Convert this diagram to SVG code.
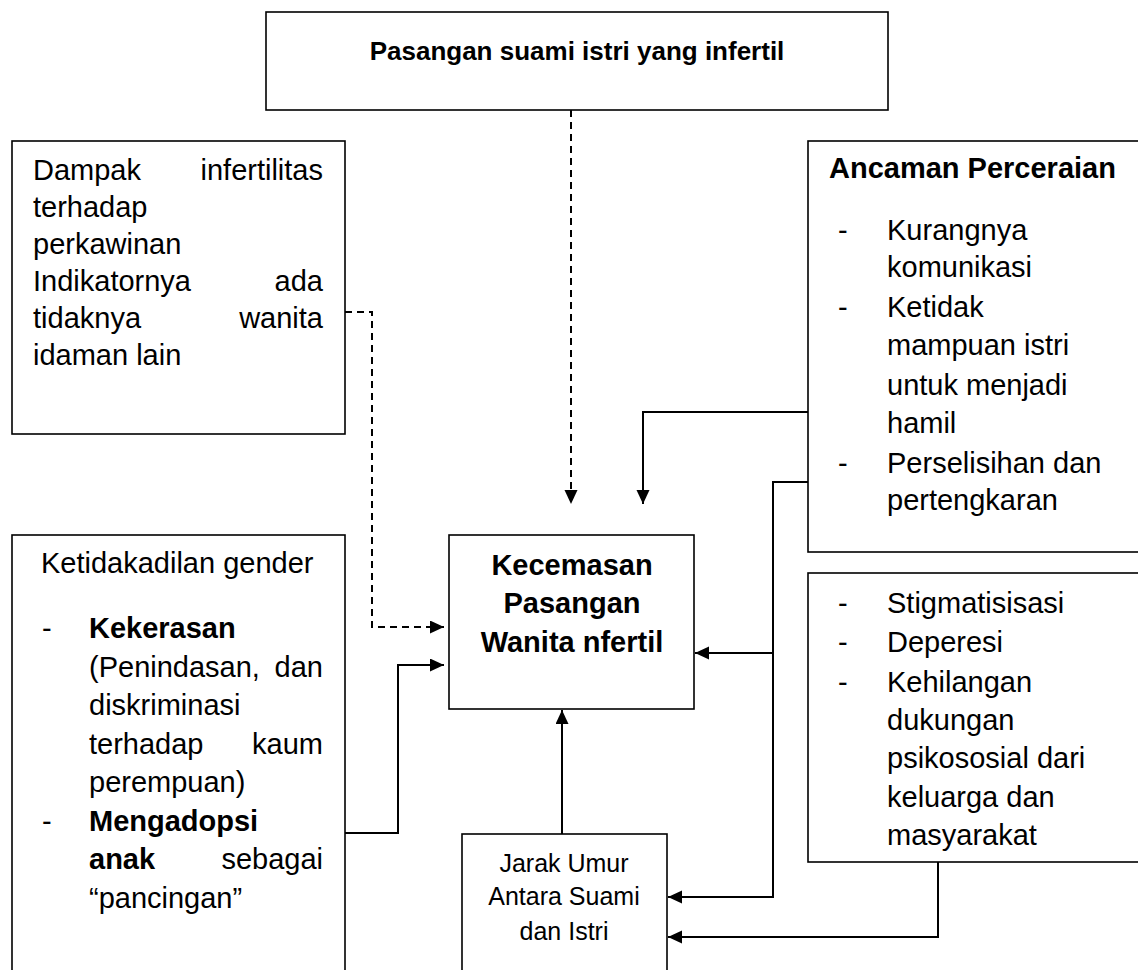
<svg xmlns="http://www.w3.org/2000/svg" width="1138" height="970" viewBox="0 0 1138 970">
<style>
.box{fill:#fff;stroke:#000;stroke-width:1.6}
.t{font-family:"Liberation Sans",Arial,sans-serif;font-size:29px;fill:#000}
.b{font-weight:bold}
.s{font-size:25px}
.c{text-anchor:middle}
.e{text-anchor:end}
.ln{fill:none;stroke:#000;stroke-width:2}
.dash{stroke-dasharray:7 5}
</style>
<defs>
<marker id="ah" markerUnits="userSpaceOnUse" markerWidth="15" markerHeight="14" refX="14" refY="6.5" orient="auto">
<path d="M0,0 L14,6.5 L0,13 z" fill="#000"/>
</marker>
</defs>
<rect width="1138" height="970" fill="#fff"/>

<g id="top">
<rect class="box" x="266" y="12" width="622" height="98"/>
<text class="t b c" x="577" y="60" style="font-size:26px">Pasangan suami istri yang infertil</text>
</g>

<g id="dampak">
<rect class="box" x="12" y="141" width="333" height="293"/>
<text class="t" x="33" y="180">Dampak</text><text class="t e" x="323" y="180">infertilitas</text>
<text class="t" x="33" y="217">terhadap</text>
<text class="t" x="33" y="254">perkawinan</text>
<text class="t" x="33" y="291">Indikatornya</text><text class="t e" x="323" y="291">ada</text>
<text class="t" x="33" y="328">tidaknya</text><text class="t e" x="323" y="328">wanita</text>
<text class="t" x="33" y="365">idaman lain</text>
</g>

<g id="ancaman">
<rect class="box" x="808" y="141" width="340" height="411"/>
<text class="t b" x="829" y="178">Ancaman Perceraian</text>
<text class="t" x="838" y="240">-</text><text class="t" x="887" y="240">Kurangnya</text>
<text class="t" x="887" y="277">komunikasi</text>
<text class="t" x="838" y="317">-</text><text class="t" x="887" y="317">Ketidak</text>
<text class="t" x="887" y="355">mampuan istri</text>
<text class="t" x="887" y="395">untuk menjadi</text>
<text class="t" x="887" y="433">hamil</text>
<text class="t" x="838" y="473">-</text><text class="t" x="887" y="473">Perselisihan dan</text>
<text class="t" x="887" y="510">pertengkaran</text>
</g>

<g id="gender">
<rect class="box" x="12" y="535" width="333" height="445"/>
<text class="t" x="41" y="573">Ketidakadilan gender</text>
<text class="t" x="42" y="638">-</text><text class="t b" x="89" y="638">Kekerasan</text>
<text class="t" x="89" y="677">(Penindasan,</text><text class="t e" x="323" y="677">dan</text>
<text class="t" x="89" y="715">diskriminasi</text>
<text class="t" x="89" y="754">terhadap</text><text class="t e" x="323" y="754">kaum</text>
<text class="t" x="89" y="792">perempuan)</text>
<text class="t" x="42" y="831">-</text><text class="t b" x="89" y="831">Mengadopsi</text>
<text class="t b" x="89" y="869">anak</text><text class="t e" x="323" y="869">sebagai</text>
<text class="t" x="89" y="908">“pancingan”</text>
</g>

<g id="kecemasan">
<rect class="box" x="449" y="535" width="245" height="174"/>
<text class="t b c" x="572" y="575">Kecemasan</text>
<text class="t b c" x="572" y="613">Pasangan</text>
<text class="t b c" x="572" y="652">Wanita nfertil</text>
</g>

<g id="stigma">
<rect class="box" x="808" y="573" width="340" height="289"/>
<text class="t" x="838" y="613">-</text><text class="t" x="887" y="613">Stigmatisisasi</text>
<text class="t" x="838" y="652">-</text><text class="t" x="887" y="652">Deperesi</text>
<text class="t" x="838" y="692">-</text><text class="t" x="887" y="692">Kehilangan</text>
<text class="t" x="887" y="730">dukungan</text>
<text class="t" x="887" y="768">psikososial dari</text>
<text class="t" x="887" y="807">keluarga dan</text>
<text class="t" x="887" y="845">masyarakat</text>
</g>

<g id="jarak">
<rect class="box" x="462" y="834" width="205" height="150"/>
<text class="t s c" x="564" y="872">Jarak Umur</text>
<text class="t s c" x="564" y="905">Antara Suami</text>
<text class="t s c" x="564" y="940">dan Istri</text>
</g>

<g id="connectors">
<path class="ln dash" d="M571,110 V504" marker-end="url(#ah)"/>
<path class="ln dash" d="M345,312 H372 V627 H444" marker-end="url(#ah)"/>
<path class="ln" d="M345,833 H398 V665 H444" marker-end="url(#ah)"/>
<path class="ln" d="M808,412 H643 V504" marker-end="url(#ah)"/>
<path class="ln" d="M808,482 H773 V897 H668" marker-end="url(#ah)"/>
<path class="ln" d="M773,653 H695" marker-end="url(#ah)"/>
<path class="ln" d="M938,862 V937 H668" marker-end="url(#ah)"/>
<path class="ln" d="M562,834 V710" marker-end="url(#ah)"/>
</g>
</svg>
